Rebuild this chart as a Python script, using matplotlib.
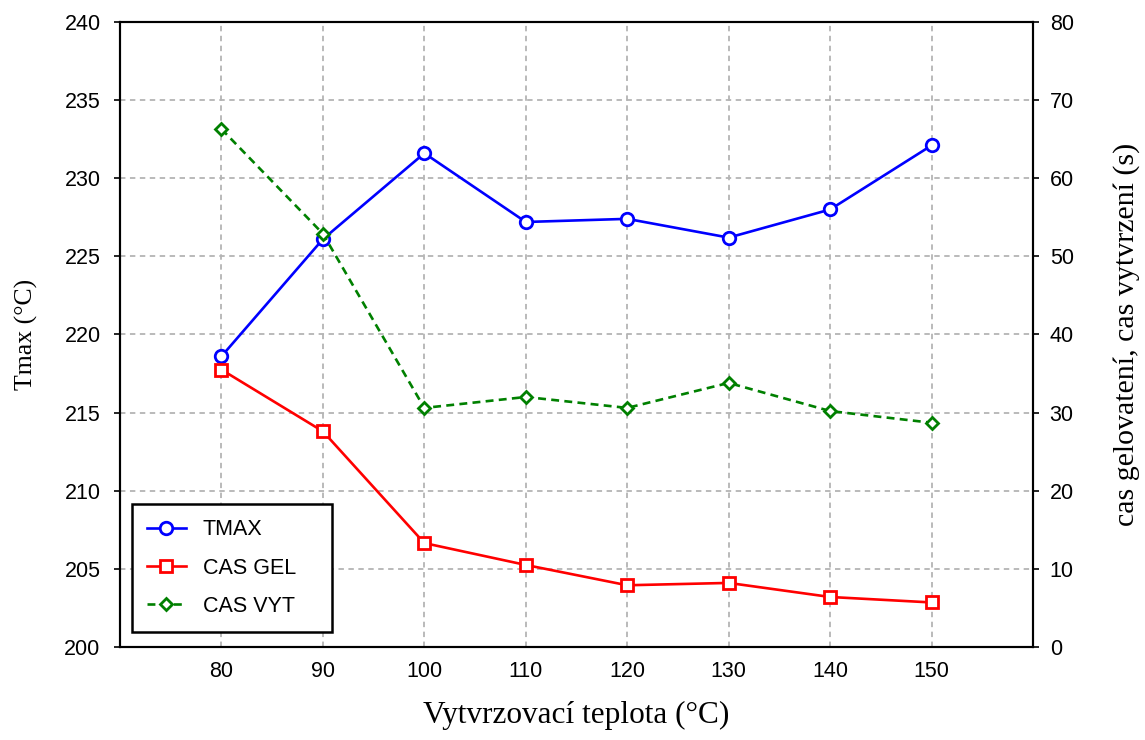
import numpy as np
import matplotlib
matplotlib.use("Agg")
import matplotlib.pyplot as plt

# data
teplota = [80, 90, 100, 110, 120, 130, 140, 150]
tmax = [218.6, 226.1, 231.6, 227.2, 227.4, 226.2, 228.0, 232.1]
cas_gel = [35.5, 27.6, 13.3, 10.5, 7.9, 8.2, 6.4, 5.7]
cas_vyt = [66.3, 52.9, 30.6, 32.0, 30.6, 33.8, 30.2, 28.7]

x_ticks = [80, 90, 100, 110, 120, 130, 140, 150]
y_left_ticks = [200, 205, 210, 215, 220, 225, 230, 235, 240]
y_right_ticks = [0, 10, 20, 30, 40, 50, 60, 70, 80]

tick_font = "Liberation Sans"
label_font = "Liberation Serif"

fig = plt.figure(figsize=(11.45, 7.4), dpi=100)
ax = fig.add_axes([0.1048, 0.1257, 0.7974, 0.8446])
ax2 = ax.twinx()

ax.set_xlim(70, 160)
ax.set_ylim(200, 240)
ax2.set_ylim(0, 80)
ax.set_xticks(x_ticks)
ax.set_yticks(y_left_ticks)
ax2.set_yticks(y_right_ticks)

# grid
ax.grid(True, color="#b4b4b4", linestyle=(0, (3, 2.5)), linewidth=1.3)
ax.set_axisbelow(True)

l1, = ax.plot(teplota, tmax, color="blue", lw=1.9, marker="o", ms=9,
              mfc="white", mec="blue", mew=2, label="TMAX", zorder=4)
l2, = ax2.plot(teplota, cas_gel, color="red", lw=1.9, marker="s", ms=9,
               mfc="white", mec="red", mew=2, label="CAS GEL", zorder=3)
l3, = ax2.plot(teplota, cas_vyt, color="green", lw=1.9, ls=(0, (3, 2)),
               marker="D", ms=6, mfc="white", mec="green", mew=2,
               label="CAS VYT", zorder=3)

for a in (ax, ax2):
    for s in a.spines.values():
        s.set_linewidth(1.5)
    a.tick_params(labelsize=15.5, width=1.2, length=4)
    for lab in a.get_yticklabels() + a.get_xticklabels():
        lab.set_fontfamily(tick_font)
ax.tick_params(axis="x", length=0, pad=10)
ax.tick_params(axis="y", pad=10)
ax2.tick_params(axis="y", pad=8)

ax.set_xlabel("Vytvrzovací teplota (°C)", fontsize=22.5, family=label_font, labelpad=14)
ax.set_ylabel("Tmax (°C)", fontsize=18.5, family=label_font, labelpad=19)
ax2.set_ylabel("cas gelovatení, cas vytvrzení (s)", fontsize=21.5, family=label_font, labelpad=28)

# legend box has a fixed width, text stays on the left
leg = ax.legend(handles=[l1, l2, l3], loc="lower left", mode="expand",
                bbox_to_anchor=(0.013, 0.024, 0.219, 0.2), borderaxespad=0,
                fancybox=False, edgecolor="black", framealpha=1,
                borderpad=0.7, labelspacing=0.8, handlelength=1.8,
                handletextpad=0.8,
                prop={"family": tick_font, "size": 15.5})
leg.get_frame().set_linewidth(1.8)
leg.set_zorder(10)

fig.savefig("out.png", dpi=100)
